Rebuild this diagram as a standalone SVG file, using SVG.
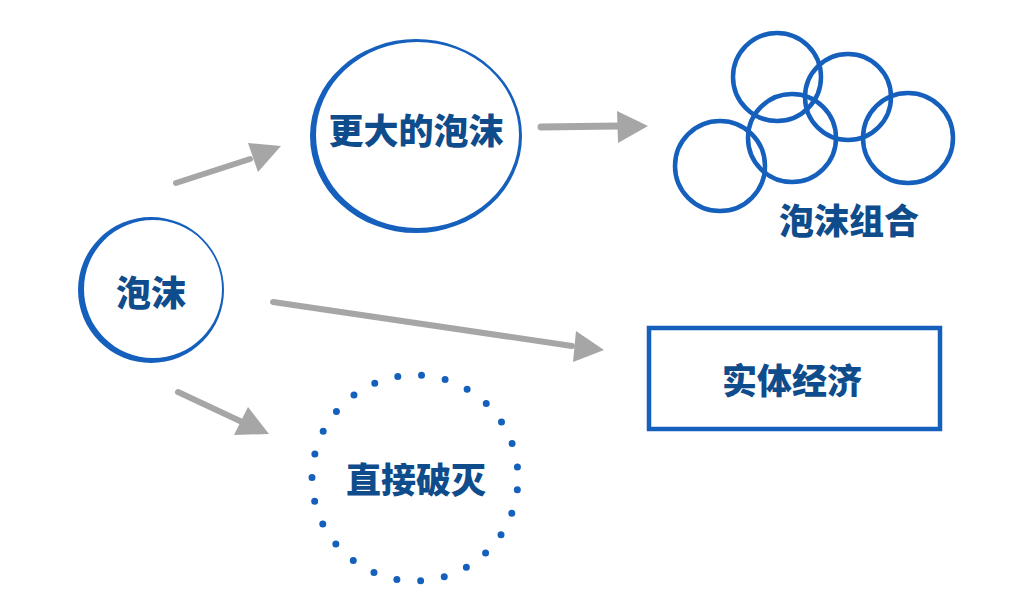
<svg xmlns="http://www.w3.org/2000/svg" width="1021" height="615" viewBox="0 0 1021 615">
<style>
.lbl{font-family:"Noto Sans CJK SC","Noto Sans CJK TC",sans-serif;font-weight:900;font-size:35px;fill:#0f4c8c;text-anchor:middle;dominant-baseline:central}
.ring{fill:#1660bd;fill-rule:evenodd}
.bub{fill:none;stroke:#1660bd;stroke-width:4.5}
.shaft{fill:none;stroke:#a6a6a6;stroke-linecap:round}
.head{fill:#a6a6a6}
</style>
<rect width="1021" height="615" fill="#ffffff"/>
<g id="connectors">
<g id="arrow-bubble-bigger">
<path class="shaft" stroke-width="6" d="M176,183 L250,159"/>
<polygon class="head" points="248,143 281,146 258,172"/>
</g>
<g id="arrow-bigger-group">
<path class="shaft" stroke-width="7" d="M541,127 L618,126"/>
<polygon class="head" points="617,111 648,126 618,143"/>
</g>
<g id="arrow-bubble-economy">
<path class="shaft" stroke-width="6" d="M273,302 L572,346"/>
<polygon class="head" points="576,331 604,350 573,362"/>
</g>
<g id="arrow-bubble-burst">
<path class="shaft" stroke-width="6" d="M178,392 L240,421"/>
<polygon class="head" points="248,407 269,434 234,435"/>
</g>
</g>
<g id="node-bubble">
<path class="ring" d="M78,290 a73,73 0 1,0 146,0 a73,73 0 1,0 -146,0 Z M84,289 a69,69 0 1,0 138,0 a69,69 0 1,0 -138,0 Z"/>
<text class="lbl" x="151" y="290">泡沫</text>
</g>
<g id="node-bigger">
<path class="ring" d="M310,136 a106,97 0 1,0 212,0 a106,97 0 1,0 -212,0 Z M316,135 a101.5,93 0 1,0 203,0 a101.5,93 0 1,0 -203,0 Z"/>
<text class="lbl" x="416" y="128">更大的泡沫</text>
</g>
<g id="node-group">
<circle class="bub" cx="777" cy="77" r="44"/>
<circle class="bub" cx="848" cy="97" r="43"/>
<circle class="bub" cx="792" cy="138" r="44"/>
<circle class="bub" cx="720" cy="166" r="45"/>
<circle class="bub" cx="908" cy="138" r="45"/>
<text class="lbl" x="849" y="218">泡沫组合</text>
</g>
<g id="node-economy">
<rect x="649" y="328" width="291" height="101" fill="none" stroke="#1660bd" stroke-width="4.5"/>
<text class="lbl" x="792" y="378">实体经济</text>
</g>
<g id="node-burst">
<circle cx="415" cy="478" r="103" fill="none" stroke="#1660bd" stroke-width="7" stroke-linecap="round" stroke-dasharray="0 23.97" stroke-dashoffset="-12"/>
<text class="lbl" x="416" y="477">直接破灭</text>
</g>
</svg>
